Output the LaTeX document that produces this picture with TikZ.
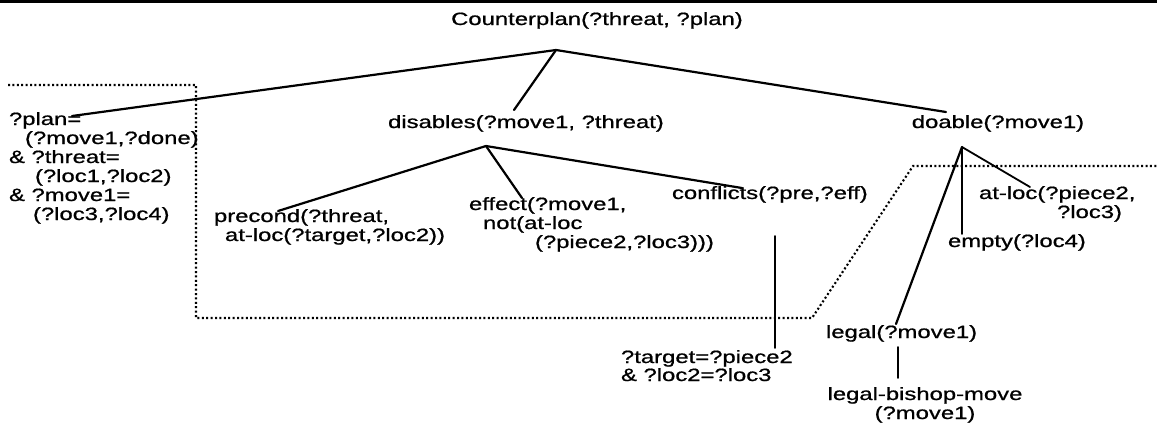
\documentclass[tikz,border=0pt]{standalone}
\usepackage{fontspec}
\setmainfont{Liberation Sans}[FakeStretch=1.34,FakeBold=0.9]
\begin{document}
\begin{tikzpicture}[x=1bp,y=-1bp,
  lbl/.style={anchor=base west,inner sep=0pt,outer sep=0pt,
    font=\fontsize{17.8bp}{19bp}\selectfont},
  lblc/.style={lbl,anchor=base},
  lble/.style={lbl,anchor=base east},
  branch/.style={line width=2.2bp,line cap=round},
  stem/.style={line width=1.8bp,line cap=round},
  region/.style={line width=2.1bp,dash pattern=on 2bp off 2.4bp}]
\useasboundingbox (0,0) rectangle (1157,432);
\fill (0,0) rectangle (1157,2.6);

% root goal
\node[lblc] (cp) at (597,25) {Counterplan(?threat, ?plan)};

% bindings on the left
\node[lbl] (plan1) at (9,125) {?plan=};
\node[lbl] (plan2) at (25,144) {(?move1,?done)};
\node[lbl] (plan3) at (9,163) {\& ?threat=};
\node[lbl] (plan4) at (35,182) {(?loc1,?loc2)};
\node[lbl] (plan5) at (9,201) {\& ?move1=};
\node[lbl] (plan6) at (33,220) {(?loc3,?loc4)};

% second level
\node[lblc] (dis) at (526,128) {disables(?move1, ?threat)};
\node[lblc] (doa) at (998,128) {doable(?move1)};

% children of disables
\node[lbl] (pre1) at (214,222) {precond(?threat,};
\node[lbl] (pre2) at (225,241) {at-loc(?target,?loc2))};
\node[lbl] (eff1) at (469,210) {effect(?move1,};
\node[lbl] (eff2) at (483,229) {not(at-loc};
\node[lbl] (eff3) at (535,248) {(?piece2,?loc3)))};
\node[lbl] (con) at (672,199) {conflicts(?pre,?eff)};
\node[lbl] (tgt1) at (621,363) {?target=?piece2};
\node[lbl] (tgt2) at (621,381) {\& ?loc2=?loc3};

% children of doable
\node[lbl] (at1) at (979,199) {at-loc(?piece2,};
\node[lble] (at2) at (1122,218) {?loc3)};
\node[lbl] (emp) at (948,247) {empty(?loc4)};
\node[lbl] (leg) at (826,338) {legal(?move1)};
\node[lblc] (lbm1) at (925,400) {legal-bishop-move};
\node[lblc] (lbm2) at (925,419) {(?move1)};

% branch points and connector ends
\coordinate (cp-fork) at (556,50);
\coordinate (dis-fork) at (486,146);
\coordinate (doa-fork) at (962,147);
\coordinate (plan-tip) at (72,116);
\coordinate (dis-tip) at (514,110);
\coordinate (doa-tip) at (946,112);
\coordinate (pre-tip) at (278,211);
\coordinate (eff-tip) at (522,198);
\coordinate (con-tip) at (742,188);
\coordinate (con-foot) at (775,236);
\coordinate (tgt-tip) at (775,348);
\coordinate (leg-tip) at (896,324);
\coordinate (emp-tip) at (962,234);
\coordinate (at-tip) at (1030,187);
\coordinate (leg-foot) at (898,347);
\coordinate (lbm-tip) at (898,378);

\draw[branch] (cp-fork) -- (plan-tip);
\draw[branch] (cp-fork) -- (dis-tip);
\draw[branch] (cp-fork) -- (doa-tip);
\draw[branch] (dis-fork) -- (pre-tip);
\draw[branch] (dis-fork) -- (eff-tip);
\draw[branch] (dis-fork) -- (con-tip);
\draw[branch] (doa-fork) -- (leg-tip);
\draw[stem] (doa-fork) -- (emp-tip);
\draw[stem] (doa-fork) -- (at-tip);
\draw[stem] (con-foot) -- (tgt-tip);
\draw[stem] (leg-foot) -- (lbm-tip);

% dotted boundary
\coordinate (r1) at (8,85);
\coordinate (r2) at (196,85);
\coordinate (r3) at (196,318);
\coordinate (r4) at (812,318);
\coordinate (r5) at (913,166);
\coordinate (r6) at (1157,166);
\draw[region] (r1) -- (r2) -- (r3) -- (r4) -- (r5) -- (r6);
\end{tikzpicture}
\end{document}
